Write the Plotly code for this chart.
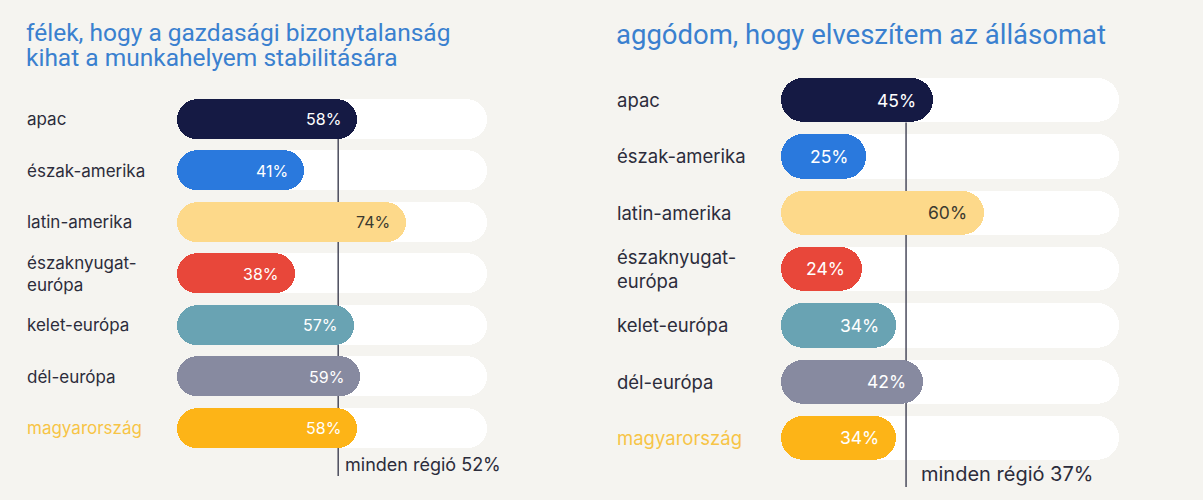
import plotly.graph_objects as go

# ---------------- data ----------------
categories = ["apac", "észak-amerika", "latin-amerika", "északnyugat-<br>európa",
              "kelet-európa", "dél-európa", "magyarország"]
left_values = [58, 41, 74, 38, 57, 59, 58]
right_values = [45, 25, 60, 24, 34, 42, 34]
left_avg = 52
right_avg = 37
left_title_lines = ["félek, hogy a gazdasági bizonytalanság", "kihat a munkahelyem stabilitására"]
right_title = "aggódom, hogy elveszítem az állásomat"
avg_label = "minden régió"
track_max = 100

bar_colors = ["#151a44", "#2a79dd", "#fdd98a", "#e8473a", "#69a3b3", "#878aa0", "#fdb417"]
text_colors = ["#ffffff", "#ffffff", "#3b3a30", "#ffffff", "#ffffff", "#ffffff", "#ffffff"]
label_colors = ["#2c2c3b"] * 6 + ["#f7c446"]

W, H = 1203, 500
BG = "#f5f4f0"
TITLE_C = "#3a80cf"
LINE_C = "#4a4b5c"
LABEL_FONT = "Inter, Roboto, sans-serif"
TITLE_FONT = "Roboto, Inter, sans-serif"

ypos = list(range(len(categories)))

fig = go.Figure()


def add_panel(values, avg, xa_base, ya_base, xa_top, ya_top, bar_w, line_y0, line_y1,
              label_px, lab_size, val_size, avg_size, val_shift, avg_shift):
    n = len(values)
    # white tracks (rounded both ends by two overlapping bars)
    fig.add_trace(go.Bar(x=[track_max] * n, y=ypos, base=[0] * n, orientation="h",
                         width=bar_w, marker=dict(color="#ffffff", cornerradius="50%", line_width=0),
                         xaxis=xa_base, yaxis=ya_base, hoverinfo="skip", showlegend=False))
    fig.add_trace(go.Bar(x=[-track_max] * n, y=ypos, base=[track_max] * n, orientation="h",
                         width=bar_w, marker=dict(color="#ffffff", cornerradius="50%", line_width=0),
                         xaxis=xa_base, yaxis=ya_base, hoverinfo="skip", showlegend=False))
    # average line
    fig.add_trace(go.Scatter(x=[avg, avg], y=[line_y0, line_y1], mode="lines",
                             line=dict(color=LINE_C, width=1.5),
                             xaxis=xa_base, yaxis=ya_base, hoverinfo="skip", showlegend=False))
    # coloured bars
    fig.add_trace(go.Bar(x=values, y=ypos, base=[0] * n, orientation="h",
                         width=bar_w, marker=dict(color=bar_colors, cornerradius="50%", line_width=0),
                         xaxis=xa_top, yaxis=ya_top, hoverinfo="skip", showlegend=False))
    fig.add_trace(go.Bar(x=[-v for v in values], y=ypos, base=values, orientation="h",
                         width=bar_w, marker=dict(color=bar_colors, cornerradius="50%", line_width=0),
                         xaxis=xa_top, yaxis=ya_top, hoverinfo="skip", showlegend=False))
    # value labels
    for i, v in enumerate(values):
        fig.add_annotation(x=v, y=ypos[i], xref=xa_top, yref=ya_top, text=f"{v}%",
                           showarrow=False, xanchor="right", yanchor="middle", xshift=val_shift,
                           font=dict(family=LABEL_FONT, size=val_size, color=text_colors[i]))
    # category labels
    for i, c in enumerate(categories):
        fig.add_annotation(x=label_px / W, y=ypos[i], xref="paper", yref=ya_base, text=c,
                           showarrow=False, xanchor="left", yanchor="middle", align="left",
                           font=dict(family=LABEL_FONT, size=lab_size, color=label_colors[i]))
    # average label
    fig.add_annotation(x=avg, y=line_y1, xref=xa_base, yref=ya_base,
                       text=f"{avg_label} {avg}%", showarrow=False, xanchor="left",
                       yanchor="bottom", xshift=avg_shift, yshift=-1,
                       font=dict(family=LABEL_FONT, size=avg_size, color="#2c2c3b"))


add_panel(left_values, left_avg, "x", "y", "x2", "y2", 0.78, 0.39, 6.93,
          25, 17, 16, 18, -14, 5)
add_panel(right_values, right_avg, "x3", "y3", "x4", "y4", 0.79, 0.40, 6.87,
          615, 18.5, 17.5, 20, -15, 13)

# titles
for k, line in enumerate(left_title_lines):
    fig.add_annotation(x=24 / W, y=1 - (32 + 26 * k) / H, xref="paper", yref="paper", text=line,
                       showarrow=False, xanchor="left", yanchor="middle", align="left",
                       font=dict(family=TITLE_FONT, size=24.5, color=TITLE_C))
fig.add_annotation(x=614 / W, y=1 - 34 / H, xref="paper", yref="paper", text=right_title,
                   showarrow=False, xanchor="left", yanchor="middle", align="left",
                   font=dict(family=TITLE_FONT, size=27.5, color=TITLE_C))

hidden = dict(showgrid=False, zeroline=False, showticklabels=False, showline=False,
              ticks="", fixedrange=True)

lx_dom = [177 / W, 487 / W]
rx_dom = [781 / W, 1119 / W]
# left rows centred at 119 + 51.5*i ; right rows at 100 + 56.33*i
l_top, l_step = 119 - 0.5 * 51.5, 51.5
r_top, r_step = 100 - 0.5 * 56.33, 56.33
l_dom = [1 - (l_top + 7.5 * l_step) / H, 1 - l_top / H]
r_dom = [1 - (r_top + 7.5 * r_step) / H, 1 - r_top / H]
yr = [7.0, -0.5]

fig.update_layout(
    width=W, height=H, autosize=False,
    margin=dict(l=0, r=0, t=0, b=0),
    paper_bgcolor=BG, plot_bgcolor="rgba(0,0,0,0)",
    barmode="overlay", bargap=0,
    xaxis=dict(domain=lx_dom, range=[0, 100], anchor="y", **hidden),
    yaxis=dict(domain=l_dom, range=yr, anchor="x", **hidden),
    xaxis2=dict(range=[0, 100], overlaying="x", anchor="y2", **hidden),
    yaxis2=dict(range=yr, overlaying="y", anchor="x2", **hidden),
    xaxis3=dict(domain=rx_dom, range=[0, 100], anchor="y3", **hidden),
    yaxis3=dict(domain=r_dom, range=yr, anchor="x3", **hidden),
    xaxis4=dict(range=[0, 100], overlaying="x3", anchor="y4", **hidden),
    yaxis4=dict(range=yr, overlaying="y3", anchor="x4", **hidden),
    hovermode=False,
)

fig.write_html(
    "out.html",
    config={"displayModeBar": False},
    post_script="document.body.style.margin='0';document.body.style.background='#f5f4f0';"
                "document.body.style.overflow='hidden';",
)
